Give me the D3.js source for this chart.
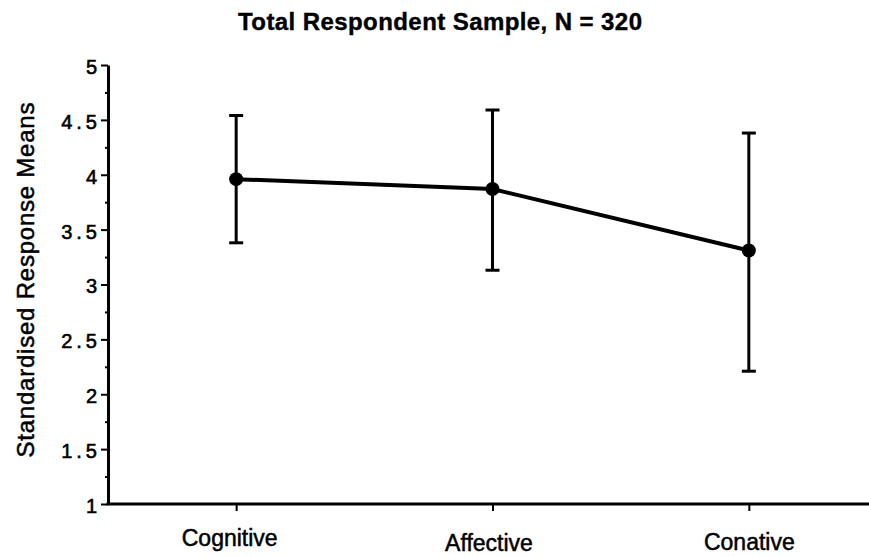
<!DOCTYPE html>
<html>
<head>
<meta charset="utf-8">
<script src="https://cdn.jsdelivr.net/npm/d3@7"></script>
<style>
  body { margin: 0; background: #fff; }
  svg { display: block; font-family: "Liberation Sans", Arial, Helvetica, sans-serif; }
</style>
</head>
<body>
<svg id="chart" width="869" height="556"></svg>
<script>
// data
const categories = ["Cognitive", "Affective", "Conative"]
const means = [3.96, 3.87, 3.31]
const errUpper = [4.54, 4.59, 4.38]
const errLower = [3.38, 3.13, 2.21]
const yTicks = [1, 1.5, 2, 2.5, 3, 3.5, 4, 4.5, 5]
const yMinorTicks = [1.25, 1.75, 2.25, 2.75, 3.25, 3.75, 4.25, 4.75]

const width = 869
const height = 556
const margin = { top: 65, right: 0, bottom: 52, left: 108 }

const svg = d3.select("#chart")

const x = d3.scalePoint()
    .domain(categories)
    .range([margin.left, 877])
    .padding(0.5)

const y = d3.scaleLinear()
    .domain([1, 5])
    .range([height - margin.bottom, margin.top])

const data = categories.map((c, i) => ({
    cat: c, mean: means[i], hi: errUpper[i], lo: errLower[i]
}))

// title
svg.append("text")
    .attr("x", 440)
    .attr("y", 30)
    .attr("text-anchor", "middle")
    .attr("textLength", 404)
    .attr("lengthAdjust", "spacing")
    .attr("font-size", 24)
    .attr("font-weight", "bold")
    .attr("stroke", "#000")
    .attr("stroke-width", 0.4)
    .text("Total Respondent Sample, N = 320")

// y axis title
svg.append("text")
    .attr("transform", `translate(34, 280) rotate(-90)`)
    .attr("text-anchor", "middle")
    .attr("textLength", 355)
    .attr("lengthAdjust", "spacing")
    .attr("font-size", 24)
    .attr("stroke", "#000")
    .attr("stroke-width", 0.5)
    .text("Standardised Response Means")

// y axis - major ticks
const yAxis = svg.append("g")
    .attr("transform", `translate(${margin.left},0)`)
    .call(d3.axisLeft(y).tickValues(yTicks).tickSize(7).tickSizeOuter(0).tickFormat(d3.format("")))

yAxis.attr("font-size", 20).attr("font-family", null)
yAxis.select(".domain").attr("stroke-width", 3)
yAxis.selectAll(".tick line").attr("stroke-width", 2)
yAxis.selectAll(".tick text")
    .attr("x", -7)
    .attr("dy", "0.42em")
    .attr("letter-spacing", 4)
    .attr("fill", "#000")
    .attr("stroke", "#000")
    .attr("stroke-width", 0.6)

// minor ticks
const yMinor = svg.append("g")
    .attr("transform", `translate(${margin.left},0)`)
    .call(d3.axisLeft(y).tickValues(yMinorTicks).tickSize(3).tickFormat(""))
yMinor.select(".domain").remove()
yMinor.selectAll(".tick line").attr("stroke-width", 2)

// x axis
const xAxis = svg.append("g")
    .attr("transform", `translate(0,${y(1)})`)
    .call(d3.axisBottom(x).tickSize(7).tickSizeOuter(0))

xAxis.attr("font-size", 23).attr("font-family", null)
xAxis.select(".domain").remove()
xAxis.append("line")
    .attr("x1", margin.left - 1.5)
    .attr("x2", width)
    .attr("stroke", "#000")
    .attr("stroke-width", 3)
xAxis.selectAll(".tick line").attr("stroke-width", 2)
xAxis.selectAll(".tick text")
    .attr("y", (d, i) => [42, 47, 46][i])
    .attr("dy", 0)
    .attr("dx", (d, i) => [-7, -4, 0][i])
    .attr("fill", "#000")
    .attr("stroke", "#000")
    .attr("stroke-width", 0.5)

// error bars
const bars = svg.append("g").attr("class", "errorBars")
    .selectAll("g")
    .data(data)
    .join("g")

bars.append("line")
    .attr("x1", d => x(d.cat))
    .attr("x2", d => x(d.cat))
    .attr("y1", d => y(d.hi))
    .attr("y2", d => y(d.lo))
    .attr("stroke", "#000")
    .attr("stroke-width", 3)

bars.selectAll(".cap")
    .data(d => [d.hi, d.lo].map(v => ({ cat: d.cat, v: v })))
    .join("line")
    .attr("class", "cap")
    .attr("x1", d => x(d.cat) - 7)
    .attr("x2", d => x(d.cat) + 7)
    .attr("y1", d => y(d.v))
    .attr("y2", d => y(d.v))
    .attr("stroke", "#000")
    .attr("stroke-width", 3)

// mean line
const line = d3.line()
    .x(d => x(d.cat))
    .y(d => y(d.mean))

svg.append("path")
    .datum(data)
    .attr("d", line)
    .attr("fill", "none")
    .attr("stroke", "#000")
    .attr("stroke-width", 4)

svg.append("g")
    .selectAll("circle")
    .data(data)
    .join("circle")
    .attr("cx", d => x(d.cat))
    .attr("cy", d => y(d.mean))
    .attr("r", 7)
    .attr("fill", "#000")
</script>
</body>
</html>
